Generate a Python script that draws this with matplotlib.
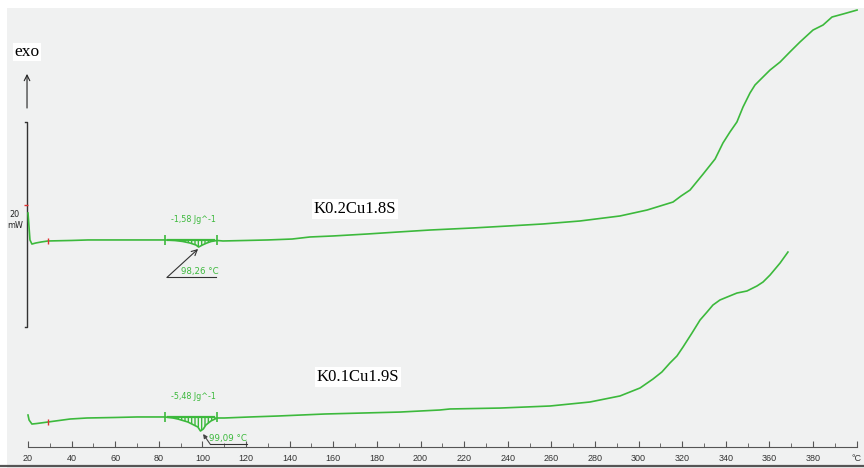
import numpy as np
import matplotlib.pyplot as plt
from matplotlib.lines import Line2D
from matplotlib.patches import Rectangle

# DSC heating curves, temperature in degC, heat flow in mW (exo up)
t_a = [20.0, 20.9, 21.8, 23.5, 26.0, 29.2, 40.0, 47.5, 60.0, 75.0, 82.8,
       87.4, 91.0, 94.3, 97.0, 98.26, 100.0, 102.0, 104.0, 106.7, 109.4,
       120.0, 130.0, 141.1, 149.3, 160.0, 175.5, 190.0, 204.4, 224.1, 240.0,
       256.2, 273.1, 291.5, 303.9, 315.8, 319.5, 323.6, 329.6, 335.1, 338.7,
       341.9, 345.1, 347.9, 351.1, 353.4, 356.6, 360.3, 364.9, 369.4, 374.0,
       380.0, 384.6, 388.7, 393.7, 400.2]
q_a = [22.83, 20.20, 19.80, 19.90, 20.00, 20.10, 20.15, 20.20, 20.20, 20.20,
       20.20, 20.15, 20.05, 19.90, 19.71, 19.51, 19.71, 19.90, 20.05, 20.15,
       20.10, 20.15, 20.20, 20.29, 20.49, 20.59, 20.78, 20.98, 21.17, 21.37,
       21.56, 21.76, 22.05, 22.54, 23.12, 23.90, 24.49, 25.07, 26.63, 28.10,
       29.66, 30.73, 31.71, 33.17, 34.54, 35.32, 36.00, 36.78, 37.56, 38.54,
       39.51, 40.68, 41.17, 41.95, 42.24, 42.63]

t_b = [20.0, 20.5, 21.8, 24.0, 29.2, 39.3, 47.1, 60.0, 70.0, 82.8, 86.5,
       88.7, 93.3, 97.9, 99.09, 100.4, 101.6, 103.9, 106.7, 110.0, 121.8,
       134.2, 156.2, 190.6, 208.9, 213.5, 236.5, 259.4, 277.7, 291.5, 300.7,
       306.6, 310.7, 314.4, 317.6, 320.4, 324.5, 328.2, 331.4, 334.1, 337.3,
       340.6, 345.1, 349.7, 354.3, 357.1, 360.3, 364.9, 368.5]
q_b = [3.12, 2.63, 2.24, 2.29, 2.44, 2.73, 2.83, 2.88, 2.93, 2.93, 2.83,
       2.73, 2.44, 1.95, 1.56, 1.76, 2.15, 2.54, 2.83, 2.83, 2.93,
       3.02, 3.22, 3.41, 3.61, 3.71, 3.80, 4.00, 4.39, 4.98, 5.76,
       6.63, 7.32, 8.20, 8.88, 9.76, 11.12, 12.39, 13.17, 13.85, 14.34,
       14.63, 15.02, 15.22, 15.71, 16.10, 16.78, 17.95, 19.02]

names = ['K0.2Cu1.8S', 'K0.1Cu1.9S']
label_pos = [(170.0, 23.22), (171.3, 6.83)]

# peak integration: limits, baseline, enthalpy and peak temperature
limits = [(82.8, 106.7), (82.8, 106.7)]
base = [20.20, 2.93]
enthalpy = ['-1,58 Jg^-1', '-5,48 Jg^-1']
t_peak = [98.26, 99.09]

ticks = list(range(20, 400, 20)) + [400]
tick_labels = [str(t) for t in ticks[:-1]] + ['°C']

green = '#3cb93c'
bg = '#f0f1f1'

fig = plt.figure(figsize=(8.64, 4.68), dpi=100, facecolor='white')
fig.add_artist(Rectangle((7/864, 0), 1, 1 - 8/468, facecolor=bg,
                         edgecolor='none', transform=fig.transFigure,
                         zorder=-10))
fig.add_artist(Line2D([0, 1], [0.005, 0.005], color='#555555', lw=1.6,
                      transform=fig.transFigure))

ax = fig.add_axes([7/864, 21/468, 857/864, 439/468])
ax.set_facecolor(bg)
ax.set_xlim(10.37, 403.38)
ax.set_ylim(0, 42.83)
for s in ('top', 'left', 'right'):
    ax.spines[s].set_visible(False)
ax.spines['bottom'].set_bounds(20, 400)
ax.spines['bottom'].set_color('#555555')
ax.set_yticks([])
ax.set_xticks(ticks)
ax.set_xticklabels(tick_labels, family='Liberation Sans', fontsize=6.5,
                   color='#333333')
ax.set_xticks(range(30, 400, 20), minor=True)
ax.tick_params(axis='x', which='major', direction='in', length=4,
               color='#555555', pad=5)
ax.tick_params(axis='x', which='minor', direction='in', length=3,
               color='#555555')

for t, q in ((t_a, q_a), (t_b, q_b)):
    t = np.asarray(t)
    q = np.asarray(q)
    ax.plot(t, q, color=green, lw=1.2, zorder=3)
    ax.plot(29.2, np.interp(29.2, t, q), marker='|', ms=4, mew=1,
            color='#e03030', zorder=4)

for i in range(2):
    t = np.asarray([t_a, t_b][i])
    q = np.asarray([q_a, q_b][i])
    lo, hi = limits[i]
    m = (t >= lo) & (t <= hi)
    ax.fill_between(t[m], q[m], base[i], facecolor='none', edgecolor=green,
                    hatch='|||||', lw=0, zorder=2)
    ax.plot([lo + 1.5, hi - 1.5], [base[i], base[i]], color=green, lw=1.6,
            zorder=3)
    ax.plot([lo, hi], [base[i], base[i]], ls='none', marker='|', ms=7,
            mew=1.2, color=green, zorder=4)
    ax.text(95.7, base[i] + 2.0, enthalpy[i], color=green, fontsize=5.8,
            ha='center', va='center')
    ax.text(*label_pos[i], names[i], family='Liberation Serif', fontsize=12,
            ha='center', va='center', zorder=5,
            bbox=dict(facecolor='white', edgecolor='none', pad=1.5))

# peak temperature callouts
ax.plot([83.7, 106.2], [16.54, 16.54], color='#333333', lw=0.8)
ax.annotate('', xy=(98.0, 19.32), xytext=(83.7, 16.54),
            arrowprops=dict(arrowstyle='->', color='#333333', lw=0.8,
                            shrinkA=0, shrinkB=0))
ax.text(98.9, 17.17, f'{t_peak[0]:.2f} °C'.replace('.', ','), color=green,
        fontsize=6.2, ha='center', va='center')

ax.plot([103.5, 120.4], [0.29, 0.29], color='#333333', lw=0.8,
        clip_on=False)
ax.annotate('', xy=(100.3, 1.27), xytext=(103.5, 0.29),
            arrowprops=dict(arrowstyle='-|>', color='#444444', lw=0.8,
                            mutation_scale=6, shrinkA=0, shrinkB=0))
ax.text(111.5, 0.85, f'{t_peak[1]:.2f} °C'.replace('.', ','), color=green,
        fontsize=6.3, ha='center', va='center')

# 20 mW scale bar and exo direction
ax.plot([18.6, 19.55, 19.55, 18.6], [31.71, 31.71, 11.71, 11.71],
        color='#333333', lw=1, clip_on=False)
ax.plot(19.1, 23.6, marker='_', ms=3, color='#e03030')
ax.text(14.0, 22.15, '20\nmW', fontsize=5.8, ha='center', va='center',
        color='#222222', linespacing=1.4)
ax.annotate('', xy=(19.55, 36.4), xytext=(19.55, 33.07),
            arrowprops=dict(arrowstyle='->', color='#222222', lw=0.8,
                            shrinkA=0, shrinkB=0))
ax.text(19.55, 38.54, 'exo', family='Liberation Serif', fontsize=12.5,
        ha='center', va='center',
        bbox=dict(facecolor='white', edgecolor='none', pad=1))

fig.savefig('out.png', dpi=100, facecolor=fig.get_facecolor())
